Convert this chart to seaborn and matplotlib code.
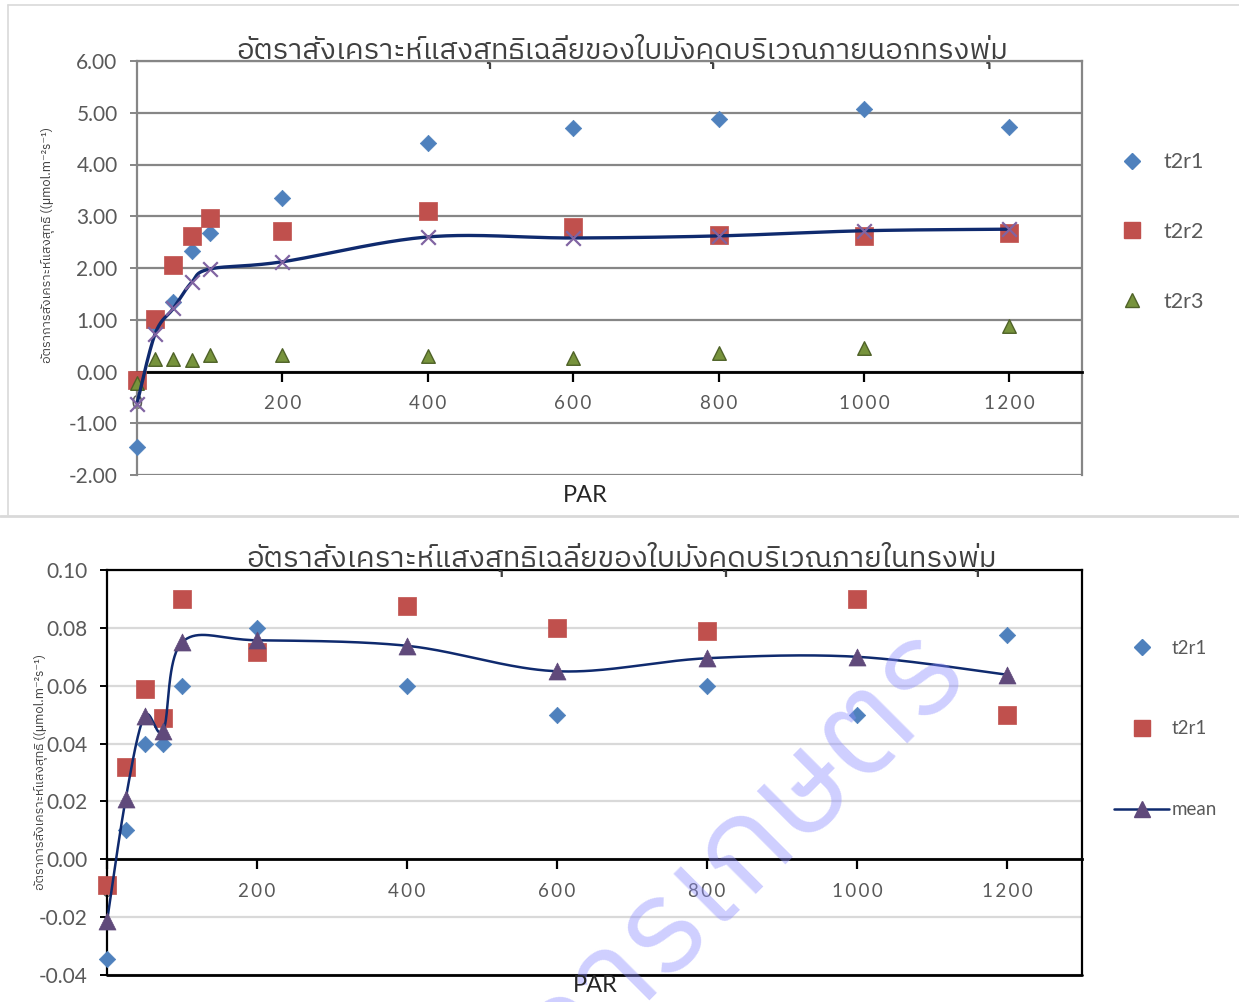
import numpy as np
import pandas as pd
import matplotlib
matplotlib.use("Agg")
import matplotlib.pyplot as plt
import seaborn as sns
from matplotlib import font_manager as fm
from matplotlib.ft2font import FT2Font
from matplotlib.lines import Line2D
from matplotlib.ticker import FixedLocator, FormatStrFormatter, FuncFormatter

# ---------------- data ----------------
par = [0, 25, 50, 75, 100, 200, 400, 600, 800, 1000, 1200]

# top panel: outside canopy
out_t2r1 = [-1.45, 0.92, 1.35, 2.32, 2.67, 3.36, 4.41, 4.70, 4.87, 5.08, 4.72]
out_t2r2 = [-0.17, 1.02, 2.05, 2.61, 2.96, 2.71, 3.10, 2.79, 2.63, 2.62, 2.67]
out_t2r3 = [-0.23, 0.25, 0.25, 0.23, 0.31, 0.31, 0.30, 0.26, 0.35, 0.45, 0.87]
out_mean = [-0.62, 0.73, 1.22, 1.72, 1.98, 2.12, 2.60, 2.58, 2.62, 2.72, 2.75]

# bottom panel: inside canopy
in_t2r1 = [-0.0345, 0.010, 0.040, 0.040, 0.060, 0.080, 0.060, 0.050, 0.060, 0.050, 0.0775]
in_t2r2 = [-0.0088, 0.032, 0.059, 0.049, 0.090, 0.0715, 0.0875, 0.080, 0.079, 0.090, 0.050]
in_mean = [-0.0215, 0.021, 0.0495, 0.0445, 0.075, 0.0757, 0.0738, 0.065, 0.0695, 0.070, 0.0638]

x_ticks = [0, 200, 400, 600, 800, 1000, 1200]
top_yticks = [-2, -1, 0, 1, 2, 3, 4, 5, 6]
bot_yticks = [-0.04, -0.02, 0.0, 0.02, 0.04, 0.06, 0.08, 0.10]

title_top = "อัตราสังเคราะห์แสงสุทธิเฉลี่ยของใบมังคุดบริเวณภายนอกทรงพุ่ม"
title_bot = "อัตราสังเคราะห์แสงสุทธิเฉลี่ยของใบมังคุดบริเวณภายในทรงพุ่ม"
ylabel_txt = "อัตราการสังเคราะห์แสงสุทธิ ((µmol.m⁻²s⁻¹)"
xlabel_txt = "PAR"
top_labels = ["t2r1", "t2r2", "t2r3"]
bot_labels = ["t2r1", "t2r1", "mean"]
watermark_txt = "วิชาการเกษตร"

# ---------------- fonts ----------------
def find_thai():
    cands = sorted(fm.fontManager.ttflist,
                   key=lambda f: (0 if "Thai" in f.name else 1, f.name))
    for f in cands:
        try:
            cmap = FT2Font(f.fname).get_charmap()
        except Exception:
            continue
        if 0x0E2D in cmap and 0x0E31 in cmap:
            return f.name
    return None

thai = find_thai()
base = "Lato"
fam = [base] + ([thai] if thai else []) + ["DejaVu Sans"]
thai_fam = ([thai] if thai else []) + ["DejaVu Sans"]

sns.set_theme(style="white")
plt.rcParams["font.family"] = fam
plt.rcParams["axes.unicode_minus"] = False

BLUE = "#4F81BD"
RED = "#C0504D"
GREEN = "#77933C"
GREEN_E = "#4F6228"
PURPLE = "#8064A2"
PURPLE_D = "#604A7B"
NAVY = "#0F2A6E"
TXT = "#595959"

W, H = 1239, 1002
fig = plt.figure(figsize=(W / 100, H / 100), dpi=100)


def smooth(xs, ys, n=40):
    P = np.column_stack([xs, ys]).astype(float)
    out = []
    for i in range(len(P) - 1):
        p0 = P[i - 1] if i > 0 else P[i]
        p3 = P[i + 2] if i + 2 < len(P) else P[i + 1]
        c1 = P[i] + (P[i + 1] - p0) / 6.0
        c2 = P[i + 1] - (p3 - P[i]) / 6.0
        t = np.linspace(0, 1, n)[:, None]
        seg = ((1 - t) ** 3) * P[i] + 3 * ((1 - t) ** 2) * t * c1 + 3 * (1 - t) * (t ** 2) * c2 + (t ** 3) * P[i + 1]
        out.append(seg if i == 0 else seg[1:])
    S = np.vstack(out)
    return S[:, 0], S[:, 1]


def ax_rect(l, t, r, b):
    return [l / W, 1 - b / H, (r - l) / W, (b - t) / H]


spaced = FuncFormatter(lambda v, p: "\u2009".join(str(int(round(v)))))


def style_axes(ax, ylim, yticks, grid_color, frame_color):
    ax.set_xlim(0, 1300)
    ax.set_ylim(*ylim)
    ax.yaxis.set_major_locator(FixedLocator(yticks))
    ax.yaxis.set_major_formatter(FormatStrFormatter("%.2f"))
    ax.xaxis.set_major_locator(FixedLocator(x_ticks))
    ax.xaxis.set_major_formatter(spaced)
    ax.yaxis.grid(True, color=grid_color, lw=1.6, zorder=0)
    ax.xaxis.grid(False)
    ax.set_axisbelow(True)
    for s in ["left", "top", "right"]:
        ax.spines[s].set_visible(True)
        ax.spines[s].set_color(frame_color)
        ax.spines[s].set_linewidth(1.6)
    ax.spines["bottom"].set_position(("data", 0))
    ax.spines["bottom"].set_color("black")
    ax.spines["bottom"].set_linewidth(2.0)
    ax.tick_params(axis="y", which="major", left=True, direction="out", length=5,
                   width=1.4, color=frame_color, labelsize=15, labelcolor=TXT, pad=9)
    ax.tick_params(axis="x", which="major", bottom=True, direction="out", length=7,
                   width=1.6, color="black", labelsize=13.5, labelcolor=TXT, pad=10)
    ax.set_xlabel("")
    ax.set_ylabel("")


# ---------------- top panel ----------------
ax1 = fig.add_axes(ax_rect(137, 61, 1082, 475))
sns.scatterplot(x=par, y=out_t2r1, ax=ax1, marker="D", s=70, color=BLUE,
                edgecolor=BLUE, linewidth=0.5, zorder=3, legend=False, clip_on=False)
sns.scatterplot(x=par, y=out_t2r2, ax=ax1, marker="s", s=150, color=RED,
                edgecolor=RED, linewidth=0.5, zorder=3, legend=False, clip_on=False)
sns.scatterplot(x=par, y=out_t2r3, ax=ax1, marker="^", s=95, color=GREEN,
                edgecolor=GREEN_E, linewidth=1.0, zorder=3, legend=False, clip_on=False)
sx, sy = smooth(par, out_mean)
ax1.plot(sx, sy, color=NAVY, lw=2.4, zorder=4, solid_capstyle="round", clip_on=False)
sns.scatterplot(x=par, y=out_mean, ax=ax1, marker="x", s=110, color=PURPLE,
                linewidth=1.6, zorder=5, legend=False, clip_on=False)
style_axes(ax1, (-2, 6), top_yticks, "#868686", "#868686")

h1 = [Line2D([], [], ls="none", marker="D", ms=8, color=BLUE),
      Line2D([], [], ls="none", marker="s", ms=12, color=RED),
      Line2D([], [], ls="none", marker="^", ms=10, mfc=GREEN, mec=GREEN_E)]
fig.legend(h1, top_labels, loc="center left", bbox_to_anchor=(1095 / W, 1 - 232 / H),
           frameon=False, fontsize=15.5, labelspacing=2.3, handlelength=2.4,
           handletextpad=0.3, borderpad=0, labelcolor=TXT)

# ---------------- bottom panel ----------------
ax2 = fig.add_axes(ax_rect(107, 570, 1082, 975))
sns.scatterplot(x=par, y=in_t2r1, ax=ax2, marker="D", s=70, color=BLUE,
                edgecolor=BLUE, linewidth=0.5, zorder=3, legend=False, clip_on=False)
sns.scatterplot(x=par, y=in_t2r2, ax=ax2, marker="s", s=170, color=RED,
                edgecolor=RED, linewidth=0.5, zorder=3, legend=False, clip_on=False)
sx, sy = smooth(par, in_mean)
ax2.plot(sx, sy, color=NAVY, lw=1.8, zorder=4)
sns.scatterplot(x=par, y=in_mean, ax=ax2, marker="^", s=150, color=PURPLE_D,
                edgecolor=PURPLE_D, linewidth=0.5, zorder=5, legend=False, clip_on=False)
style_axes(ax2, (-0.04, 0.10), bot_yticks, "#D9D9D9", "black")
ax2.axhline(-0.04, color="black", lw=2.0, zorder=6, clip_on=False)

h2 = [Line2D([], [], ls="none", marker="D", ms=8, color=BLUE),
      Line2D([], [], ls="none", marker="s", ms=12, color=RED),
      Line2D([], [], color=NAVY, lw=1.8, marker="^", ms=11, mfc=PURPLE_D, mec=PURPLE_D)]
fig.legend(h2, bot_labels, loc="center left", bbox_to_anchor=(1105 / W, 1 - 729 / H),
           frameon=False, fontsize=13.5, labelspacing=3.4, handlelength=2.9,
           handletextpad=0.15, borderpad=0, labelcolor=TXT)

# ---------------- texts ----------------
renderer = fig.canvas.get_renderer()


def fit_text(x, y, s, length_px, vertical=False, **kw):
    t = fig.text(x / W, 1 - y / H, s, **kw)
    ext = t.get_window_extent(renderer=renderer)
    cur = ext.height if vertical else ext.width
    if cur > 0:
        t.set_fontsize(t.get_fontsize() * length_px / cur)
    return t


fit_text(622, 59, title_top, 772, ha="center", va="baseline", fontsize=16,
         color="#404040", family=thai_fam)
fit_text(622, 567, title_bot, 750, ha="center", va="baseline", fontsize=16,
         color="#404040", family=thai_fam)

fig.text(585 / W, 1 - 495 / H, xlabel_txt, ha="center", va="center", fontsize=17,
         color="#262626", zorder=12)
fig.text(595 / W, 1 - 985 / H, xlabel_txt, ha="center", va="center", fontsize=17,
         color="#262626", zorder=12)

fit_text(47, 245, ylabel_txt, 235, vertical=True, ha="center", va="center",
         rotation=90, fontsize=8, color="#404040", family=thai_fam)
fit_text(40, 772, ylabel_txt, 235, vertical=True, ha="center", va="center",
         rotation=90, fontsize=8, color="#404040", family=thai_fam)

# panel frame decorations
fig.add_artist(Line2D([8 / W, 8 / W], [1 - 5 / H, 1 - 515 / H], color="#D9D9D9", lw=1.2))
fig.add_artist(Line2D([8 / W, 1.0], [1 - 5 / H, 1 - 5 / H], color="#D9D9D9", lw=1.2))
fig.add_artist(Line2D([0, 1.0], [1 - 516 / H, 1 - 516 / H], color="#D9D9D9", lw=2.0))

# watermark
fig.text(945 / W, 1 - 650 / H, watermark_txt, ha="right", va="center", rotation=45,
         rotation_mode="anchor", fontsize=95, color="#8C8CFF",
         alpha=0.42, family=thai_fam, zorder=10)

fig.savefig("out.png", dpi=100)
